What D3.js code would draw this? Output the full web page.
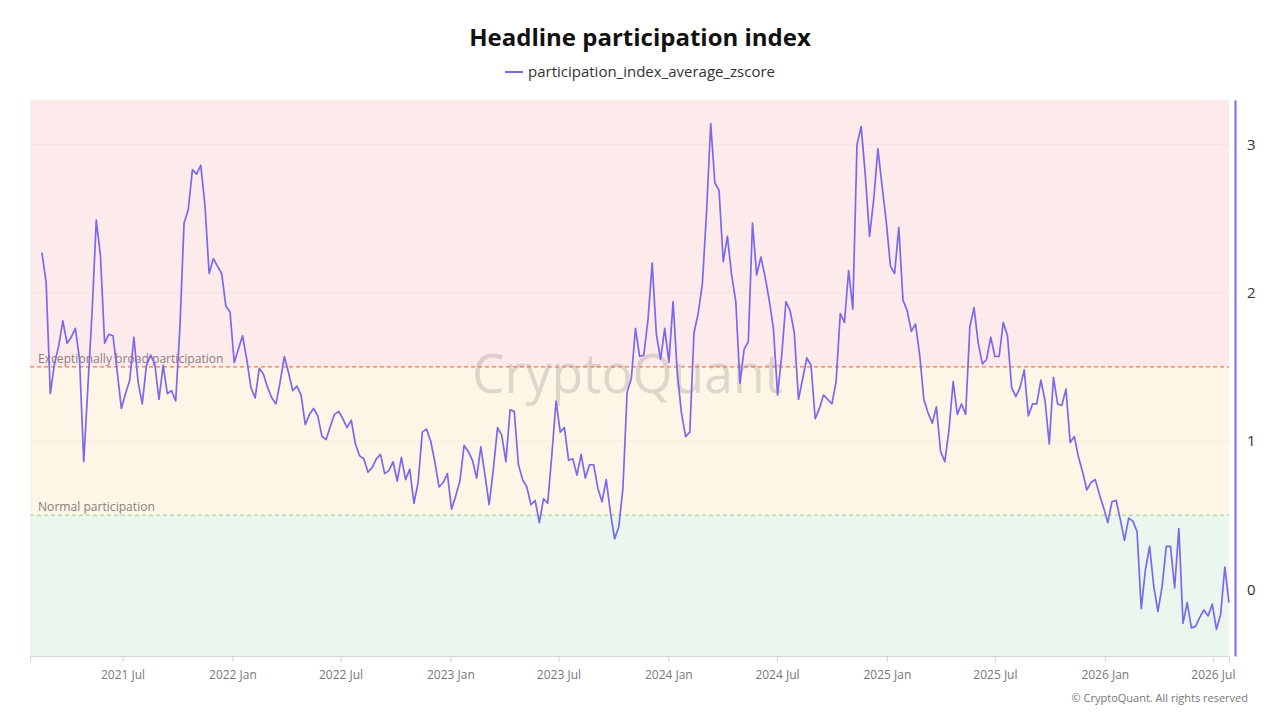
<!DOCTYPE html>
<html lang="en">
<head>
  <meta charset="UTF-8">
  <title>Headline participation index</title>
  <script src="https://d3js.org/d3.v7.min.js"></script>
  <style>
    body { margin: 0; background: #fff; }
    svg { font-family: "Open Sans", "Noto Sans", sans-serif; }
  </style>
</head>
<body>
<svg id="chart" width="1280" height="720"></svg>

<script>
  // Weekly series, first point and weekly values
  const startDate = "2021-02-16";
  const values = [
    2.27, 2.07, 1.32, 1.52, 1.64, 1.81, 1.66, 1.70, 1.76, 1.55,
    0.86, 1.37, 1.87, 2.49, 2.25, 1.66, 1.72, 1.71, 1.47, 1.22,
    1.32, 1.41, 1.70, 1.40, 1.25, 1.51, 1.58, 1.52, 1.28, 1.51,
    1.32, 1.34, 1.27, 1.76, 2.47, 2.56, 2.83, 2.80, 2.86, 2.59,
    2.13, 2.23, 2.18, 2.13, 1.91, 1.87, 1.53, 1.62, 1.71, 1.55,
    1.36, 1.29, 1.49, 1.45, 1.36, 1.29, 1.25, 1.40, 1.57, 1.46,
    1.34, 1.37, 1.31, 1.11, 1.18, 1.22, 1.17, 1.03, 1.01, 1.10,
    1.18, 1.20, 1.15, 1.09, 1.14, 0.98, 0.90, 0.88, 0.79, 0.82,
    0.88, 0.91, 0.78, 0.80, 0.86, 0.73, 0.89, 0.74, 0.81, 0.58,
    0.72, 1.06, 1.08, 1.00, 0.86, 0.69, 0.72, 0.78, 0.54, 0.63,
    0.73, 0.97, 0.93, 0.87, 0.75, 0.96, 0.77, 0.57, 0.81, 1.09,
    1.04, 0.86, 1.21, 1.20, 0.84, 0.74, 0.69, 0.57, 0.60, 0.45,
    0.61, 0.58, 0.91, 1.27, 1.06, 1.09, 0.87, 0.88, 0.77, 0.91,
    0.75, 0.84, 0.84, 0.68, 0.59, 0.74, 0.52, 0.34, 0.42, 0.68,
    1.33, 1.42, 1.76, 1.57, 1.58, 1.82, 2.20, 1.72, 1.55, 1.76,
    1.53, 1.94, 1.46, 1.19, 1.03, 1.06, 1.73, 1.86, 2.06, 2.54,
    3.14, 2.74, 2.69, 2.21, 2.38, 2.12, 1.94, 1.39, 1.62, 1.67,
    2.47, 2.12, 2.24, 2.11, 1.95, 1.76, 1.31, 1.58, 1.94, 1.88,
    1.73, 1.28, 1.42, 1.56, 1.51, 1.15, 1.22, 1.31, 1.28, 1.25,
    1.40, 1.86, 1.80, 2.15, 1.89, 3.00, 3.12, 2.79, 2.38, 2.63,
    2.97, 2.72, 2.48, 2.18, 2.13, 2.44, 1.95, 1.88, 1.74, 1.79,
    1.58, 1.28, 1.19, 1.12, 1.23, 0.93, 0.86, 1.07, 1.40, 1.18,
    1.25, 1.18, 1.77, 1.90, 1.66, 1.52, 1.55, 1.70, 1.57, 1.57,
    1.80, 1.71, 1.36, 1.30, 1.36, 1.48, 1.17, 1.25, 1.25, 1.41,
    1.27, 0.98, 1.43, 1.25, 1.24, 1.35, 0.99, 1.03, 0.89, 0.79,
    0.67, 0.72, 0.74, 0.64, 0.55, 0.45, 0.59, 0.60, 0.47, 0.33,
    0.48, 0.46, 0.39, -0.13, 0.13, 0.29, 0.02, -0.15, 0.02, 0.29,
    0.29, 0.01, 0.41, -0.23, -0.09, -0.26, -0.25, -0.19, -0.14, -0.18,
    -0.10, -0.27, -0.17, 0.15, -0.09
  ];

  // Axis ticks
  const xTickDates = ["2021-07-01", "2022-01-01", "2022-07-01", "2023-01-01", "2023-07-01",
    "2024-01-01", "2024-07-01", "2025-01-01", "2025-07-01", "2026-01-01", "2026-07-01"];
  const yTicks = [0, 1, 2, 3];

  // Zones (edges top to bottom) and threshold lines
  const bandEdges = [3.3, 1.5, 0.5, -0.45];
  const bandColors = ["#fcebea", "#fdf6e6", "#eaf6ee"];
  const thresholds = [1.5, 0.5];
  const thresholdLabels = ["Exceptionally broad participation", "Normal participation"];
  const thresholdColors = ["#ea7a55", "#a9d98f"];

  const parse = d3.timeParse("%Y-%m-%d");
  const t0 = parse(startDate);
  const data = values.map((v, i) => ({date: d3.timeDay.offset(t0, 7 * i), value: v}));

  const svg = d3.select("#chart");
  const plotLeft = 30, plotRight = 1229, plotTop = 100, plotBottom = 656;

  let x = d3.scaleTime()
          .domain([parse("2021-01-27"), data[data.length - 1].date])
          .range([plotLeft, plotRight]);
  let y = d3.scaleLinear()
          .domain([bandEdges[3], bandEdges[0]])
          .range([plotBottom, plotTop]);

  // Title and legend
  svg.append("text")
          .attr("x", 640).attr("y", 46)
          .attr("text-anchor", "middle")
          .attr("font-size", 24).attr("font-weight", "bold").attr("fill", "#111")
          .text("Headline participation index");
  svg.append("line")
          .attr("x1", 505).attr("x2", 523).attr("y1", 72).attr("y2", 72)
          .attr("stroke", "#7b68ee").attr("stroke-width", 2);
  svg.append("text")
          .attr("x", 528).attr("y", 77)
          .attr("font-size", 15).attr("fill", "#333")
          .text("participation_index_average_zscore");

  // Background zones
  svg.append("g").selectAll("rect")
          .data(bandColors)
          .enter().append("rect")
          .attr("x", plotLeft).attr("width", plotRight - plotLeft)
          .attr("y", (d, i) => y(bandEdges[i]))
          .attr("height", (d, i) => y(bandEdges[i + 1]) - y(bandEdges[i]))
          .attr("fill", d => d);

  // Faint grid
  svg.append("g").selectAll("line")
          .data(yTicks)
          .enter().append("line")
          .attr("x1", plotLeft).attr("x2", plotRight)
          .attr("y1", d => y(d)).attr("y2", d => y(d))
          .attr("stroke", "rgba(0,0,0,0.035)");

  // Watermark
  svg.append("text")
          .attr("x", 472).attr("y", 393)
          .attr("font-size", 55).attr("font-weight", 500)
          .attr("textLength", 311).attr("lengthAdjust", "spacingAndGlyphs")
          .attr("fill", "rgba(100,90,90,0.2)")
          .text("CryptoQuant");

  // Threshold lines and labels
  svg.append("g").selectAll("line")
          .data(thresholds)
          .enter().append("line")
          .attr("x1", plotLeft).attr("x2", plotRight)
          .attr("y1", d => y(d)).attr("y2", d => y(d))
          .attr("stroke", (d, i) => thresholdColors[i])
          .attr("stroke-width", 1.3)
          .attr("stroke-dasharray", "4,3");
  svg.append("g").selectAll("text")
          .data(thresholds)
          .enter().append("text")
          .attr("x", 38).attr("y", d => y(d) - 4)
          .attr("font-size", 12.1).attr("fill", "#8a7e7e")
          .text((d, i) => thresholdLabels[i]);

  // Series
  const line = d3.line().x(d => x(d.date)).y(d => y(d.value));
  svg.append("path")
          .datum(data)
          .attr("fill", "none")
          .attr("stroke", "#7b68ee")
          .attr("stroke-width", 1.7)
          .attr("stroke-linejoin", "round")
          .attr("d", line);

  // X axis
  const xAxis = d3.axisBottom(x)
          .tickValues(xTickDates.map(parse))
          .tickFormat(d3.timeFormat("%Y %b"))
          .tickSize(6).tickPadding(8);
  const gx = svg.append("g").attr("transform", `translate(0,${plotBottom})`).call(xAxis);
  gx.select(".domain").attr("stroke", "#d4d4d4");
  gx.selectAll(".tick line").attr("stroke", "#d4d4d4");
  gx.selectAll(".tick text").attr("fill", "#777").attr("font-size", 12)
          .attr("font-family", "'Open Sans', 'Noto Sans', sans-serif");

  // Right Y axis
  const yAxis = d3.axisRight(y).tickValues(yTicks).tickFormat(d3.format("d"))
          .tickSize(0).tickPadding(12);
  const gy = svg.append("g").attr("transform", "translate(1235,0)").call(yAxis);
  gy.select(".domain").attr("stroke", "#7b68ee").attr("stroke-width", 2);
  gy.selectAll(".tick text").attr("fill", "#333").attr("font-size", 15)
          .attr("font-family", "'Open Sans', 'Noto Sans', sans-serif");

  // Footer
  svg.append("text")
          .attr("x", 1248).attr("y", 702)
          .attr("text-anchor", "end")
          .attr("font-size", 11).attr("fill", "#777")
          .text("© CryptoQuant. All rights reserved");
</script>
</body>
</html>
